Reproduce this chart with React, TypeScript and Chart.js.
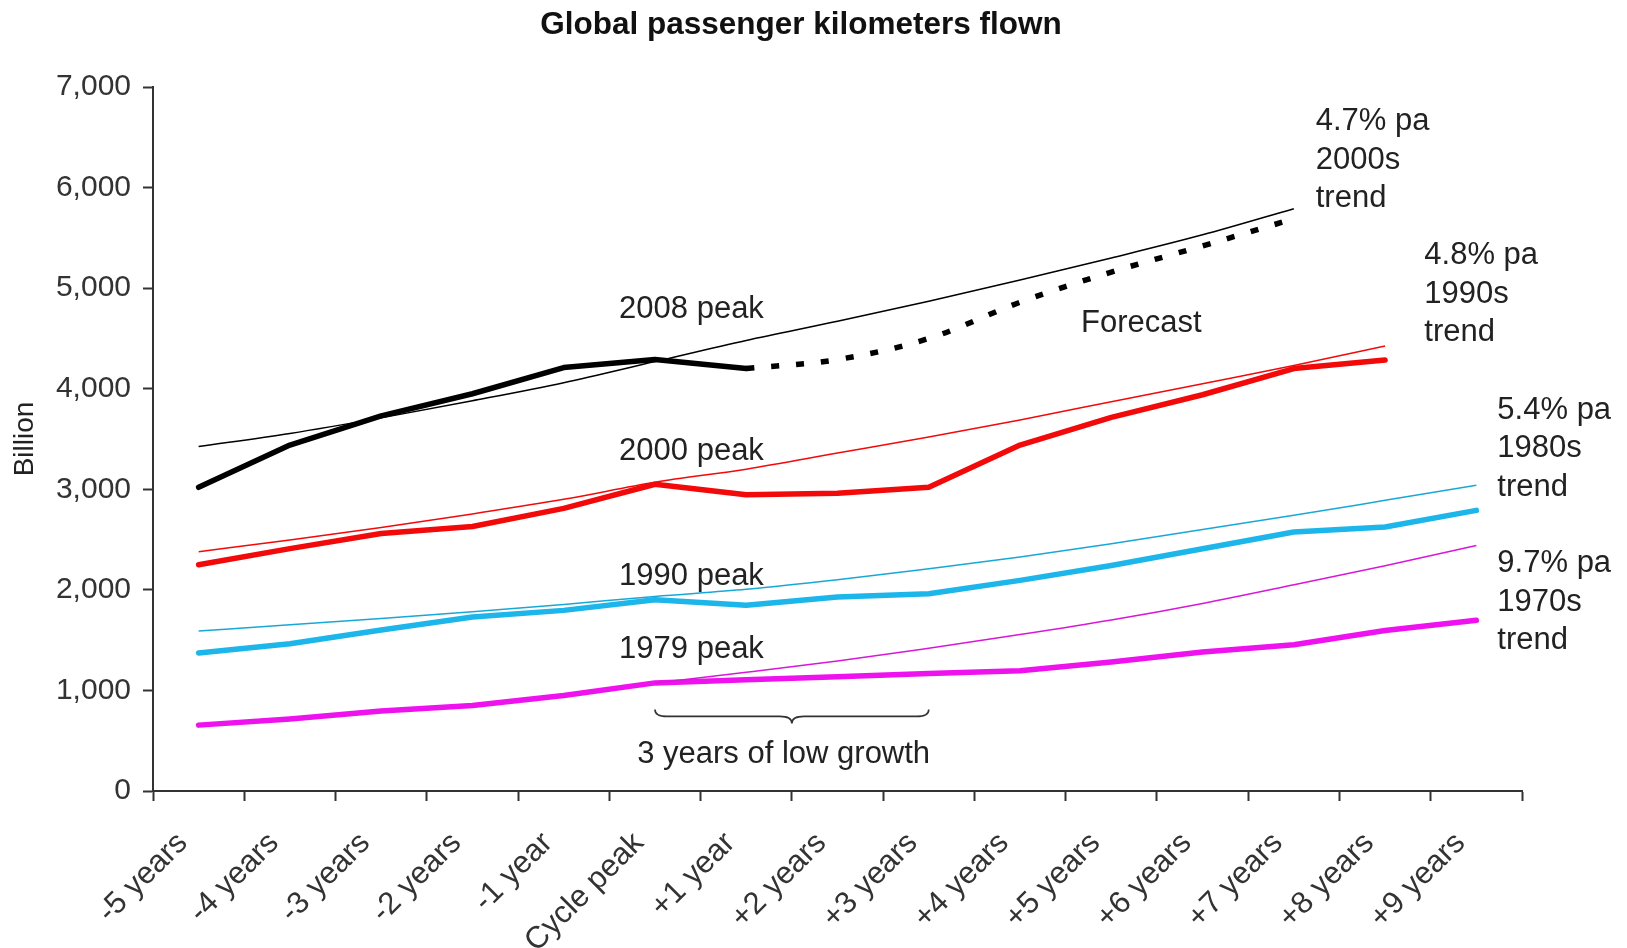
import React, { useEffect, useRef } from 'react';
import { Chart, registerables } from 'chart.js';

Chart.register(...registerables);

const titleText = 'Global passenger kilometers flown';
const yAxisTitle = 'Billion';

const categories = [
  '-5 years', '-4 years', '-3 years', '-2 years', '-1 year', 'Cycle peak',
  '+1 year', '+2 years', '+3 years', '+4 years', '+5 years', '+6 years',
  '+7 years', '+8 years', '+9 years',
];

const yTickValues = [0, 1000, 2000, 3000, 4000, 5000, 6000, 7000];

const peak2008 = [3020, 3440, 3730, 3950, 4210, 4290, 4200, null, null, null, null, null, null, null, null];
const forecast2008 = [null, null, null, null, null, null, 4200, 4290, 4500, 4860, 5160, 5420, 5690, null, null];
const trend2000s = [3425, 3555, 3710, 3880, 4060, 4270, 4480, 4670, 4870, 5080, 5300, 5530, 5790, null, null];

const peak2000 = [2250, 2410, 2560, 2630, 2810, 3050, 2945, 2960, 3020, 3440, 3715, 3940, 4200, 4285, null];
const trend1990s = [2380, 2495, 2620, 2755, 2900, 3070, 3200, 3360, 3520, 3690, 3870, 4050, 4230, 4425, null];

const peak1990 = [1372, 1465, 1600, 1730, 1796, 1902, 1848, 1930, 1962, 2094, 2243, 2409, 2575, 2625, 2790];
const trend1980s = [1590, 1652, 1716, 1783, 1855, 1935, 2005, 2100, 2210, 2326, 2459, 2600, 2741, 2890, 3040];

const peak1979 = [655, 715, 795, 850, 950, 1075, 1105, 1135, 1168, 1195, 1282, 1382, 1455, 1595, 1697];
const trend1970s = [null, null, null, null, null, 1075, 1180, 1292, 1420, 1555, 1700, 1865, 2050, 2240, 2440];

// text annotations anchored in data space (category index, value)
const annotationTexts = [
  { lines: ['2008 peak'], at: 5.4, value: 4788, align: 'center' },
  { lines: ['2000 peak'], at: 5.4, value: 3373, align: 'center' },
  { lines: ['1990 peak'], at: 5.4, value: 2135, align: 'center' },
  { lines: ['1979 peak'], at: 5.4, value: 1403, align: 'center' },
  { lines: ['Forecast'], at: 10.33, value: 4652, align: 'center' },
  { lines: ['3 years of low growth'], at: 6.41, value: 362, align: 'center' },
  { lines: ['4.7% pa', '2000s', 'trend'], at: 12.24, value: 6653, align: 'left' },
  { lines: ['4.8% pa', '1990s', 'trend'], at: 13.43, value: 5323, align: 'left' },
  { lines: ['5.4% pa', '1980s', 'trend'], at: 14.23, value: 3785, align: 'left' },
  { lines: ['9.7% pa', '1970s', 'trend'], at: 14.23, value: 2259, align: 'left' },
];

const braceSpan = { from: 5, to: 8, value: 742 };

const FONT = '"Liberation Sans", Arial, Helvetica, sans-serif';
const BLACK = '#000000';
const RED = '#f20a0a';
const CYAN = '#1db6ea';
const MAGENTA = '#ee12ee';

const overlayPlugin = {
  id: 'overlay',
  afterDraw(chart: any) {
    const { ctx, chartArea } = chart;
    const xs = chart.scales.x;
    const ys = chart.scales.y;
    ctx.save();
    // title
    ctx.fillStyle = '#111';
    ctx.font = `bold 31.5px ${FONT}`;
    ctx.textAlign = 'center';
    ctx.textBaseline = 'middle';
    ctx.fillText(titleText, 801, 25);

    // y axis title
    ctx.save();
    ctx.translate(25, (chartArea.top + chartArea.bottom) / 2);
    ctx.rotate(-Math.PI / 2);
    ctx.font = `28px ${FONT}`;
    ctx.fillStyle = '#222';
    ctx.fillText(yAxisTitle, 0, 0);
    ctx.restore();

    // annotations
    ctx.font = `31px ${FONT}`;
    ctx.fillStyle = '#222';
    ctx.textBaseline = 'middle';
    for (const a of annotationTexts) {
      const px = xs.getPixelForValue(a.at);
      const py = ys.getPixelForValue(a.value);
      ctx.textAlign = a.align as CanvasTextAlign;
      a.lines.forEach((t, i) => ctx.fillText(t, px, py + i * 38.4));
    }

    // curly brace
    const x0 = xs.getPixelForValue(braceSpan.from);
    const x1 = xs.getPixelForValue(braceSpan.to);
    const yl = ys.getPixelForValue(braceSpan.value);
    const xm = (x0 + x1) / 2;
    const h = 7;
    const r = 12;
    ctx.strokeStyle = '#333';
    ctx.lineWidth = 1.6;
    ctx.beginPath();
    ctx.moveTo(x0, yl - h);
    ctx.quadraticCurveTo(x0, yl, x0 + r, yl);
    ctx.lineTo(xm - r, yl);
    ctx.quadraticCurveTo(xm, yl, xm, yl + h);
    ctx.quadraticCurveTo(xm, yl, xm + r, yl);
    ctx.lineTo(x1 - r, yl);
    ctx.quadraticCurveTo(x1, yl, x1, yl - h);
    ctx.stroke();
    ctx.restore();
  },
};

function thick(data: (number | null)[], color: string) {
  return {
    data,
    borderColor: color,
    backgroundColor: color,
    borderWidth: 5.5,
    pointRadius: 0,
    tension: 0,
    borderCapStyle: 'round',
    borderJoinStyle: 'round',
    spanGaps: false,
  };
}

function thin(data: (number | null)[], color: string) {
  return {
    data,
    borderColor: color,
    backgroundColor: color,
    borderWidth: 1.5,
    pointRadius: 0,
    cubicInterpolationMode: 'monotone',
    spanGaps: false,
  };
}

export default function App() {
  const canvasRef = useRef<HTMLCanvasElement | null>(null);

  useEffect(() => {
    if (!canvasRef.current) return;
    const chart = new Chart(canvasRef.current, {
      type: 'line',
      data: {
        labels: categories,
        datasets: [
          { label: '2000s trend', ...thin(trend2000s, BLACK) },
          { label: '1990s trend', ...thin(trend1990s, RED) },
          { label: '1980s trend', ...thin(trend1980s, '#18a8d8') },
          { label: '1970s trend', ...thin(trend1970s, '#d818d8') },
          {
            label: 'Forecast',
            data: forecast2008,
            borderColor: BLACK,
            borderWidth: 5.5,
            borderDash: [8, 17],
            borderCapStyle: 'butt',
            pointRadius: 0,
            tension: 0.35,
          },
          { label: '2008 peak', ...thick(peak2008, BLACK) },
          { label: '2000 peak', ...thick(peak2000, RED) },
          { label: '1990 peak', ...thick(peak1990, CYAN) },
          { label: '1979 peak', ...thick(peak1979, MAGENTA) },
        ] as any,
      },
      options: {
        animation: false,
        responsive: false,
        devicePixelRatio: 1,
        layout: { padding: { left: 0, top: 87, right: 105, bottom: 0 } },
        plugins: {
          legend: { display: false },
          tooltip: { enabled: false },
          title: { display: false },
        },
        scales: {
          x: {
            type: 'category',
            offset: true,
            grid: {
              offset: true,
              display: true,
              drawOnChartArea: false,
              drawTicks: true,
              tickLength: 10,
              tickWidth: 2,
              tickColor: '#333',
            },
            border: { display: true, color: '#333', width: 2 },
            ticks: {
              autoSkip: false,
              maxRotation: 45,
              minRotation: 45,
              padding: 24,
              labelOffset: -16,
              color: '#333',
              font: { family: FONT, size: 31 },
            },
            afterFit: (scale: any) => {
              scale.height = 157;
            },
          },
          y: {
            min: 0,
            max: 7000,
            afterBuildTicks: (scale: any) => {
              scale.ticks = yTickValues.map((v) => ({ value: v }));
            },
            grid: {
              display: true,
              drawOnChartArea: false,
              drawTicks: true,
              tickLength: 10,
              tickWidth: 2,
              tickColor: '#333',
            },
            border: { display: true, color: '#333', width: 2 },
            ticks: {
              padding: 12,
              color: '#333',
              font: { family: FONT, size: 30 },
              callback: (v: any) => Number(v).toLocaleString('en-US'),
            },
            afterFit: (scale: any) => {
              scale.width = 153;
            },
          },
        },
      },
      plugins: [overlayPlugin],
    });
    return () => chart.destroy();
  }, []);

  return (
    <div style={{ position: 'absolute', left: 0, top: 0, width: 1627, height: 948, background: '#fff' }}>
      <canvas ref={canvasRef} width={1627} height={948} style={{ display: 'block' }} />
    </div>
  );
}
